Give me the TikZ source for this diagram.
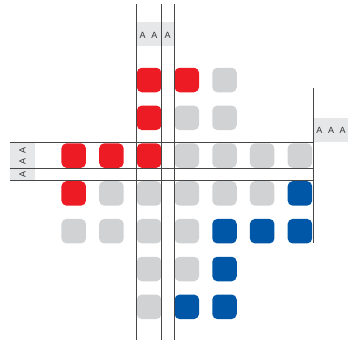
\documentclass[tikz,border=0pt]{standalone}
\usepackage{fontspec}
\setmainfont{Liberation Sans}
\usepackage{tikz}

\definecolor{cellred}{RGB}{237,28,36}
\definecolor{cellblue}{RGB}{0,87,168}
\definecolor{cellgray}{RGB}{209,210,212}
\definecolor{labelgray}{RGB}{230,231,232}
\definecolor{rulegray}{RGB}{70,70,70}

\begin{document}
\begin{tikzpicture}[x=1pt,y=-1pt,
  cell/.style={minimum size=24.5pt,rounded corners=5pt,inner sep=0pt},
  tag/.style={font=\fontsize{9}{10}\selectfont,text=black!80,inner sep=0pt},
  tagbox/.style={fill=labelgray,draw=none}]
\useasboundingbox (0,0) rectangle (348,343);

% label strips
\fill[labelgray] (136,22) rectangle (174,46);
\fill[labelgray] (10,143) rectangle (35,180);
\fill[labelgray] (313,118) rectangle (348,142);
\node[tag] (topA) at (148.5,35) {A\hspace{5.5pt}A};
\node[tag] (topB) at (167.5,35) {A};
\node[tag,rotate=90] (leftA) at (22.5,156) {A\hspace{5.5pt}A};
\node[tag,rotate=90] (leftB) at (22.5,174) {A};
\node[tag] (rightA) at (331,130) {A\hspace{5.5pt}A\hspace{5.5pt}A};

% cells: row/column/colour
\foreach \r/\c/\col in {1/3/cellred,1/4/cellred,1/5/cellgray,
    2/3/cellred,2/4/cellgray,2/5/cellgray,
    3/1/cellred,3/2/cellred,3/3/cellred,3/4/cellgray,3/5/cellgray,3/6/cellgray,3/7/cellgray,
    4/1/cellred,4/2/cellgray,4/3/cellgray,4/4/cellgray,4/5/cellgray,4/6/cellgray,4/7/cellblue,
    5/1/cellgray,5/2/cellgray,5/3/cellgray,5/4/cellgray,5/5/cellblue,5/6/cellblue,5/7/cellblue,
    6/3/cellgray,6/4/cellgray,6/5/cellblue,
    7/3/cellgray,7/4/cellblue,7/5/cellblue}
  \node[cell,fill=\col] (c\r\c) at ({73.7+37.7*(\c-1)},{80+37.8*(\r-1)}) {};

% guide lines
\foreach \x in {136.3,161,174}
  \draw[rulegray,line width=0.8pt] (\x,4) -- (\x,340);
\foreach \y in {142.7,168.3,180.3}
  \draw[rulegray,line width=0.8pt] (10,\y) -- (313,\y);
\draw[rulegray,line width=0.8pt] (313,88) -- (313,243);
\end{tikzpicture}
\end{document}
